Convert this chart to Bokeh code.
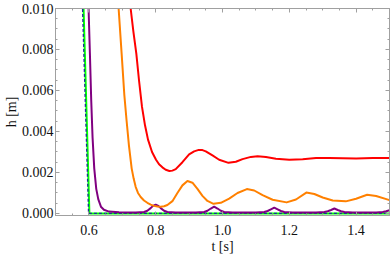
import numpy as np
from bokeh.plotting import figure
from bokeh.models import (LinearAxis, FixedTicker, PrintfTickFormatter, Range1d,
                          CustomJSTickFormatter)
from bokeh.embed import file_html
from bokeh.resources import INLINE

# ---- data (t in s, h in m) ----
blue_t = [0.5795, 0.581, 0.599, 0.62, 1.5]
blue_h = [0.0112, 0.0100, 0.0000, 0.0000, 0.0000]

green_t = [0.5825, 0.584, 0.6015, 0.62, 1.0, 1.5]
green_h = [0.0112, 0.0100, 0.0000, 0.0000, 0.0000, 0.0000]

purple_t = [0.597, 0.599, 0.603, 0.607, 0.611, 0.616, 0.622, 0.628, 0.636, 0.645, 0.66, 0.69,
            0.74, 0.765, 0.775, 0.785, 0.792, 0.80, 0.808, 0.815, 0.825, 0.835, 0.86,
            0.92, 0.945, 0.955, 0.965, 0.975, 0.985, 0.995, 1.005, 1.03,
            1.10, 1.125, 1.135, 1.145, 1.155, 1.165, 1.175, 1.185, 1.21,
            1.28, 1.305, 1.315, 1.325, 1.335, 1.345, 1.355, 1.365, 1.39,
            1.46, 1.48, 1.49, 1.5]
purple_h = [0.0115, 0.0100, 0.0078, 0.0055, 0.0037, 0.0022, 0.0012, 0.0007, 0.00033, 0.00018, 0.00009, 0.00006,
            0.00005, 0.00007, 0.00013, 0.00026, 0.00037, 0.00043, 0.00037, 0.00026, 0.00013, 0.00007, 0.00005,
            0.00005, 0.00007, 0.00013, 0.00024, 0.00033, 0.00024, 0.00013, 0.00007, 0.00005,
            0.00005, 0.00007, 0.00012, 0.00020, 0.00028, 0.00020, 0.00012, 0.00007, 0.00005,
            0.00005, 0.00007, 0.00011, 0.00017, 0.00024, 0.00017, 0.00011, 0.00007, 0.00005,
            0.00005, 0.00007, 0.00011, 0.00016]

orange_t = [0.685, 0.689, 0.698, 0.706, 0.713, 0.72, 0.728, 0.734, 0.74, 0.747, 0.755, 0.765,
            0.775, 0.785, 0.795, 0.805, 0.815, 0.825,
            0.835, 0.85, 0.865, 0.88, 0.895, 0.91, 0.925, 0.94, 0.955, 0.973, 0.995,
            1.02, 1.045, 1.073, 1.095, 1.12, 1.15, 1.192, 1.22, 1.251, 1.275, 1.30,
            1.33, 1.369, 1.40, 1.433, 1.46, 1.5]
orange_h = [0.0112, 0.0100, 0.0078, 0.0058, 0.0045, 0.0033, 0.0022, 0.0017, 0.0013, 0.0010, 0.0008, 0.00063,
            0.00052, 0.00043, 0.00037, 0.00034, 0.00033, 0.00035,
            0.00041, 0.00060, 0.00100, 0.00137, 0.00158, 0.00150, 0.00120, 0.00086, 0.00061, 0.00047, 0.00052,
            0.00072, 0.00100, 0.00119, 0.00112, 0.00089, 0.00067, 0.00054, 0.00068, 0.00102, 0.00095, 0.00078,
            0.00063, 0.00059, 0.00072, 0.00091, 0.00085, 0.00065]

red_t = [0.721, 0.725, 0.733, 0.742, 0.75, 0.759, 0.768, 0.777, 0.789, 0.801, 0.81, 0.82, 0.83, 0.841,
         0.85, 0.86, 0.88, 0.90, 0.915, 0.929, 0.94,
         0.95, 0.97, 0.99, 1.018, 1.04, 1.06, 1.085, 1.105, 1.13, 1.16, 1.20, 1.24,
         1.28, 1.32, 1.36, 1.40, 1.45, 1.5]
red_h = [0.0115, 0.0100, 0.0089, 0.0078, 0.0065, 0.0052, 0.0043, 0.0036, 0.0030, 0.00262, 0.0024, 0.00225, 0.00213, 0.00207,
         0.00209, 0.00216, 0.00250, 0.00288, 0.00303, 0.00310, 0.00309,
         0.00303, 0.00283, 0.00262, 0.00247, 0.00252, 0.00265, 0.00276, 0.00279, 0.00275, 0.00267, 0.00262, 0.00265,
         0.00270, 0.00271, 0.00269, 0.00268, 0.00270, 0.00270]

x_major = [0.6, 0.8, 1.0, 1.2, 1.4]
y_major = [0.000, 0.002, 0.004, 0.006, 0.008, 0.010]
x_minor = [round(0.5 + 0.05 * i, 3) for i in range(21)]
y_minor = [round(0.0005 * i, 5) for i in range(21)]

FRAME = "#a0a0a0"
FONT = "Liberation Serif"
FS = "14px"
TXT = "#111111"

p = figure(width=390, height=259, output_backend="svg", toolbar_location=None,
           x_range=Range1d(0.5, 1.5), y_range=Range1d(-0.0001, 0.010),
           min_border_left=53, min_border_right=1, min_border_top=8, min_border_bottom=44,
           x_axis_location=None, y_axis_location=None)
p.grid.visible = False
p.outline_line_color = FRAME
p.background_fill_color = "white"
p.border_fill_color = "white"


def make_axis(ticks, minor, fmt, show_labels, standoff):
    ax = LinearAxis(ticker=FixedTicker(ticks=ticks, minor_ticks=minor))
    ax.axis_line_color = FRAME
    ax.major_tick_line_color = FRAME
    ax.minor_tick_line_color = FRAME
    ax.major_tick_in = 4
    ax.major_tick_out = 0
    ax.minor_tick_in = 2
    ax.minor_tick_out = 0
    if show_labels:
        ax.formatter = PrintfTickFormatter(format=fmt)
        ax.major_label_text_font = FONT
        ax.major_label_text_font_size = FS
        ax.major_label_text_color = TXT
        ax.major_label_standoff = standoff
        ax.axis_label_text_font = FONT
        ax.axis_label_text_font_size = FS
        ax.axis_label_text_font_style = "normal"
        ax.axis_label_text_color = TXT
    else:
        ax.formatter = CustomJSTickFormatter(code="return ''")
        ax.major_label_text_font_size = "0px"
        ax.major_label_standoff = 0
    return ax


xax = make_axis(x_major, x_minor, "%.1f", True, 9)
xax.axis_label = "t [s]"
xax.axis_label_standoff = 1
yax = make_axis(y_major, y_minor, "%.3f", True, 2)
yax.axis_label = "h [m]"
yax.axis_label_standoff = 0

p.add_layout(xax, "below")
p.add_layout(yax, "left")
p.add_layout(make_axis(x_major, x_minor, "%.1f", False, 0), "above")
p.add_layout(make_axis(y_major, y_minor, "%.3f", False, 0), "right")

p.line(green_t, green_h, line_color="#00ff00", line_width=2)
p.line(blue_t, blue_h, line_color="#1c2a9c", line_width=1.3, line_dash="3 2")
p.line(purple_t, purple_h, line_color="#800080", line_width=2, line_join="round")
p.line(orange_t, orange_h, line_color="#ff8000", line_width=2, line_join="round")
p.line(red_t, red_h, line_color="#ff0000", line_width=2, line_join="round")

open("out.html", "w").write(file_html(p, INLINE))
